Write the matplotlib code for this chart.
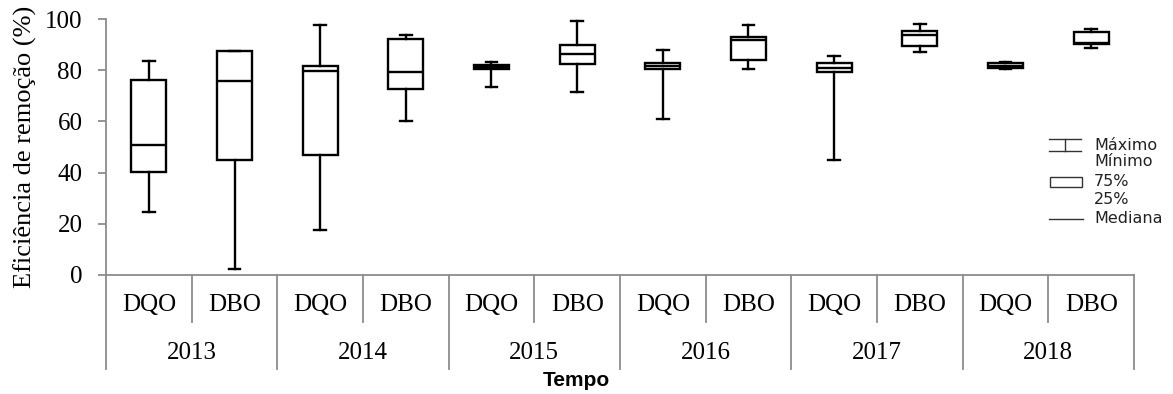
import matplotlib
matplotlib.use("Agg")
import matplotlib.pyplot as plt
from matplotlib.lines import Line2D
from matplotlib.patches import Rectangle

# removal efficiency (%) per year and parameter
anos = ["2013", "2014", "2015", "2016", "2017", "2018"]
parametros = ["DQO", "DBO"]

minimo  = [24.5, 2.1, 17.4, 60.2, 73.5, 71.4, 60.9, 80.7, 44.9, 87.2, 80.6, 88.7]
q1      = [40.3, 44.8, 46.9, 72.7, 80.4, 82.4, 80.4, 84.2, 79.3, 89.7, 81.0, 90.5]
mediana = [50.9, 75.7, 79.8, 79.3, 81.4, 86.3, 81.7, 91.9, 81.1, 94.0, 81.9, 90.9]
q3      = [76.2, 87.4, 81.6, 92.1, 82.1, 89.9, 82.9, 93.1, 82.9, 95.6, 82.8, 95.2]
maximo  = [83.7, 87.7, 97.8, 94.0, 83.1, 99.4, 88.0, 97.8, 85.7, 98.2, 83.2, 96.1]

serif = "Liberation Serif"
cinza = "#8c8c8c"

fig = plt.figure(figsize=(11.73, 3.94), dpi=100)
W, H = 1173, 394
ax = fig.add_axes([106 / W, (H - 274.7) / H, (1134 - 106) / W, (274.7 - 19.3) / H])

stats = []
for i in range(len(minimo)):
    stats.append(dict(whislo=minimo[i], q1=q1[i], med=mediana[i],
                      q3=q3[i], whishi=maximo[i], fliers=[]))

pos = list(range(1, len(stats) + 1))
lw = 1.7
ax.bxp(stats, positions=pos, widths=0.41, capwidths=0.14, showfliers=False,
       patch_artist=True,
       boxprops=dict(facecolor="white", edgecolor="black", linewidth=lw),
       medianprops=dict(color="black", linewidth=lw),
       whiskerprops=dict(color="black", linewidth=lw),
       capprops=dict(color="black", linewidth=lw))

ax.set_xlim(0.5, len(stats) + 0.5)
ax.set_ylim(0, 100)
ax.set_yticks([0, 20, 40, 60, 80, 100])
ax.set_xticks([])
for s in ["top", "right"]:
    ax.spines[s].set_visible(False)
for s in ["left", "bottom"]:
    ax.spines[s].set_color(cinza)
    ax.spines[s].set_linewidth(1.3)
ax.tick_params(axis="y", direction="out", length=6, width=1.3, color=cinza,
               pad=11, labelsize=18)
for t in ax.get_yticklabels():
    t.set_fontfamily(serif)

ax.set_ylabel("Eficiência de remoção (%)", fontsize=19, fontfamily=serif,
              labelpad=6)

# two-level category axis below the plot
px = 100 / (274.7 - 19.3)  # data units per pixel
curto = -(321.7 - 274.7) * px
longo = -(368.5 - 274.7) * px
y_par = -(305 - 274.7) * px
y_ano = -(353 - 274.7) * px
for k in range(len(stats) + 1):
    x = k + 0.5
    y_fim = longo if k % 2 == 0 else curto
    ax.plot([x, x], [0, y_fim], color=cinza, lw=1.3, clip_on=False)
for k, p in enumerate(pos):
    ax.text(p, y_par, parametros[k % 2], ha="center", va="center",
            fontsize=18, fontfamily=serif, clip_on=False)
for j, ano in enumerate(anos):
    ax.text(2 * j + 1.5, y_ano, ano, ha="center", va="center",
            fontsize=18, fontfamily=serif, clip_on=False)

fig.text(576 / W, 1 - 380 / H, "Tempo", ha="center", va="center",
         fontsize=15, fontweight="bold", fontfamily="Liberation Sans")

# key
def fx(v):
    return v / W

def fy(v):
    return 1 - v / H

lk = dict(color="#333333", lw=1.0, transform=fig.transFigure)
fig.add_artist(Line2D([fx(1049), fx(1081)], [fy(139), fy(139)], **lk))
fig.add_artist(Line2D([fx(1049), fx(1081)], [fy(151), fy(151)], **lk))
fig.add_artist(Line2D([fx(1065), fx(1065)], [fy(139), fy(151)], **lk))
fig.add_artist(Rectangle((fx(1050), fy(187)), fx(32), 10 / H, fill=False,
                         edgecolor="#333333", lw=1.0, transform=fig.transFigure))
fig.add_artist(Line2D([fx(1049), fx(1083)], [fy(219), fy(219)], **lk))

legenda = [("Máximo", 146), ("Mínimo", 162), ("75%", 182), ("25%", 199),
           ("Mediana", 219)]
for txt, yy in legenda:
    fig.text(fx(1094), fy(yy), txt, ha="left", va="center", fontsize=11.5,
             fontfamily="DejaVu Sans", color="#222222")

fig.savefig("out.png", dpi=100)
